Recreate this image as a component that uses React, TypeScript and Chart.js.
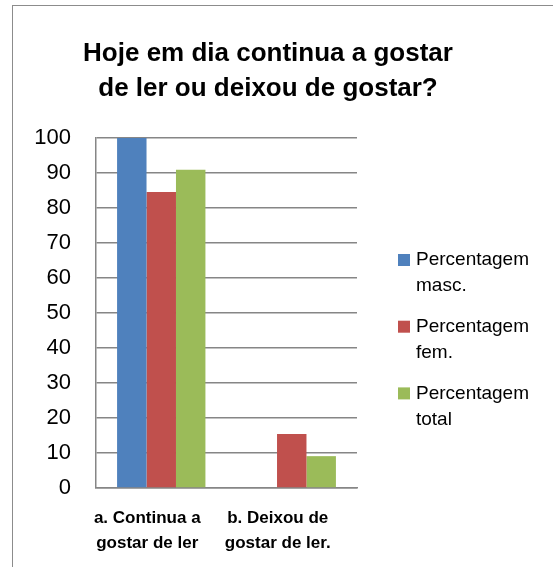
import React, { useEffect, useRef } from "react";
import { Chart, registerables } from "chart.js";

Chart.register(...registerables);

const titleLines = ["Hoje em dia continua a gostar", "de ler ou deixou de gostar?"];
const categories = [["a. Continua a", "gostar de ler"], ["b. Deixou de", "gostar de ler."]];
const seriesNames = [["Percentagem", "masc."], ["Percentagem", "fem."], ["Percentagem", "total"]];
const seriesColors = ["#4F81BD", "#C0504D", "#9BBB59"];
const mascValues = [100, 0];
const femValues = [84.6, 15.4];
const totalValues = [90.9, 9.1];
const yTicksMin = 0;
const yTicksMax = 100;
const yTickStep = 10;

const FONT = "'Liberation Sans', Arial, sans-serif";

const customLegend = {
  id: "customLegend",
  afterDraw(chart: any) {
    const ctx = chart.ctx;
    ctx.save();
    ctx.font = `19px ${FONT}`;
    ctx.textBaseline = "middle";
    ctx.textAlign = "left";
    const x0 = 398;
    let y = 260;
    chart.data.datasets.forEach((ds: any) => {
      ctx.fillStyle = ds.backgroundColor;
      ctx.fillRect(x0, y - 6, 12, 12);
      ctx.fillStyle = "#000";
      const lines: string[] = ds.legendLines;
      lines.forEach((l, j) => ctx.fillText(l, x0 + 18, y + j * 26));
      y += 66.7;
    });
    ctx.restore();
  },
};

export default function App() {
  const ref = useRef<HTMLCanvasElement | null>(null);
  useEffect(() => {
    if (!ref.current) return;
    const names = ["Percentagem masc.", "Percentagem fem.", "Percentagem total"];
    const values = [mascValues, femValues, totalValues];
    const chart = new Chart(ref.current, {
      type: "bar",
      data: {
        labels: categories as any,
        datasets: values.map((v, i) => ({
          label: names[i],
          legendLines: seriesNames[i],
          data: v,
          backgroundColor: seriesColors[i],
          borderWidth: 0,
          categoryPercentage: 0.677,
          barPercentage: 1,
        })) as any,
      },
      options: {
        responsive: false,
        animation: false,
        layout: { padding: { left: 0, right: 17, top: 0, bottom: 0 } },
        plugins: {
          legend: { display: false },
          tooltip: { enabled: false },
          title: {
            display: true,
            text: titleLines,
            color: "#000",
            font: { family: FONT, size: 26, weight: "bold", lineHeight: 35 / 26 },
            padding: { top: 36.5, bottom: 31.5 },
          },
        },
        scales: {
          x: {
            grid: { display: false, drawTicks: false },
            border: { display: true, color: "#868686", width: 1.5 },
            ticks: {
              color: "#000",
              font: { family: FONT, size: 17, weight: "bold", lineHeight: 25 / 17 },
              padding: 18,
              labelOffset: -14,
              maxRotation: 0,
              autoSkip: false,
            },
            afterFit: (s: any) => {
              s.height = 79;
            },
          },
          y: {
            min: yTicksMin,
            max: yTicksMax,
            grid: { color: "#868686", lineWidth: 1.5, drawTicks: false },
            border: { display: true, color: "#868686", width: 1.5 },
            ticks: {
              stepSize: yTickStep,
              color: "#000",
              font: { family: FONT, size: 22 },
              padding: 25,
            },
            afterFit: (s: any) => {
              s.width = 96;
            },
          },
          y2: {
            position: "right",
            min: 0,
            max: 1,
            grid: { display: false, drawTicks: false },
            border: { display: false },
            ticks: { display: false },
            afterFit: (s: any) => {
              s.width = 179;
            },
          },
        },
      } as any,
      plugins: [customLegend],
    });
    return () => chart.destroy();
  }, []);

  return (
    <div style={{ position: "fixed", left: 0, top: 0, width: 553, height: 567, background: "#fff", overflow: "hidden" }}>
      <div
        style={{
          position: "absolute",
          left: 12,
          top: 5,
          width: 600,
          height: 600,
          borderTop: "1.5px solid #8c8c8c",
          borderLeft: "1.5px solid #8c8c8c",
        }}
      />
      <canvas ref={ref} width={553} height={567} style={{ position: "absolute", left: 0, top: 0 }} />
    </div>
  );
}
